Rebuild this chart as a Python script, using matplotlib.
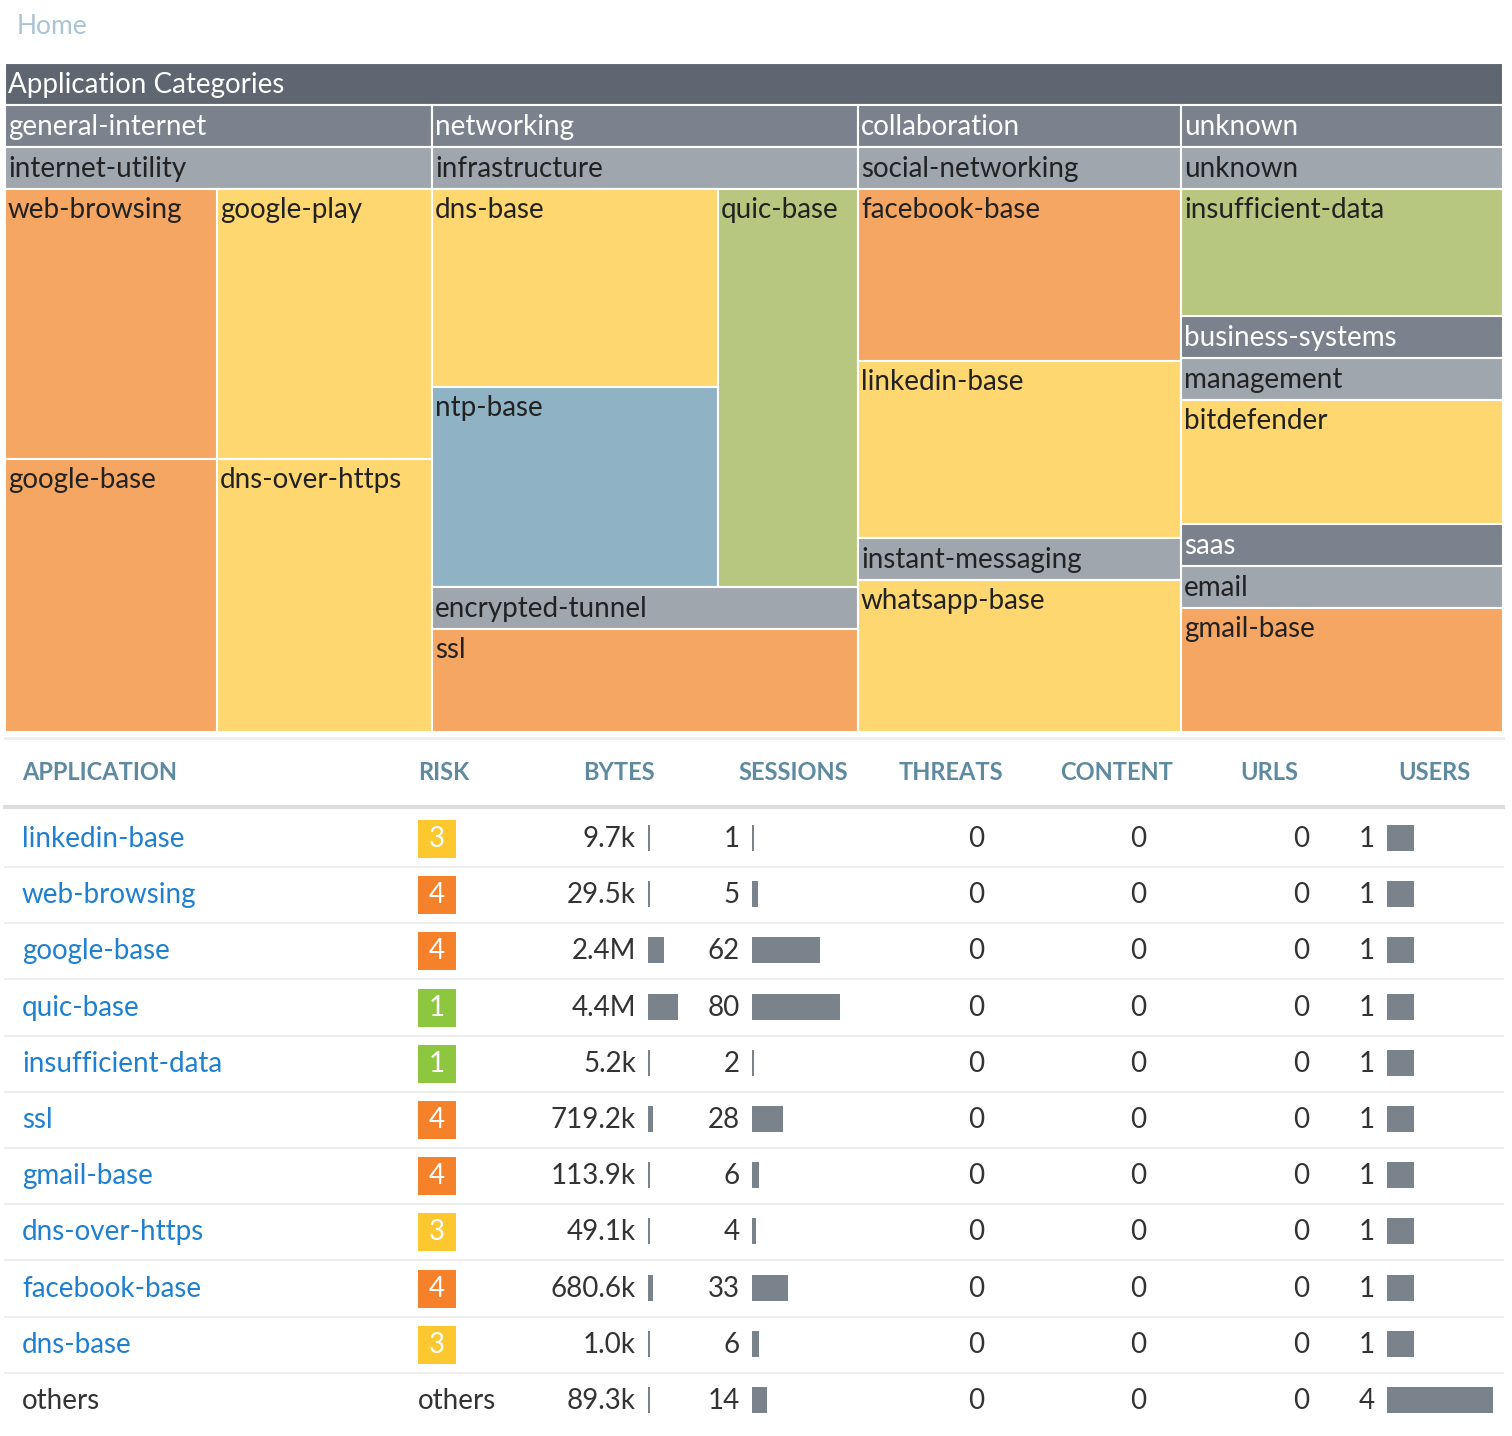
import matplotlib.pyplot as plt
from matplotlib.patches import Rectangle

plt.rcParams['font.family'] = ['Lato', 'DejaVu Sans']

# ---- treemap data: (name, kind, size along parent split, color key, split, children)
ORANGE, YELLOW, GREEN, BLUE = '#f4a662', '#fed770', '#b8c77f', '#8fb3c5'
CAT, SUB, ROOT = '#7b818d', '#a0a6ae', '#5f6671'

tree = ('Application Categories', 'root', 1, None, 'h', [
    ('general-internet', 'cat', 427, None, 'v', [
        ('internet-utility', 'sub', 1, None, 'h', [
            ('', 'group', 212, None, 'v', [
                ('web-browsing', 'app', 270, ORANGE, None, []),
                ('google-base', 'app', 272, ORANGE, None, [])]),
            ('', 'group', 215, None, 'v', [
                ('google-play', 'app', 270, YELLOW, None, []),
                ('dns-over-https', 'app', 272, YELLOW, None, [])])])]),
    ('networking', 'cat', 426, None, 'v', [
        ('infrastructure', 'sub', 439, None, 'h', [
            ('', 'group', 286, None, 'v', [
                ('dns-base', 'app', 198, YELLOW, None, []),
                ('ntp-base', 'app', 199, BLUE, None, [])]),
            ('quic-base', 'app', 140, GREEN, None, [])]),
        ('encrypted-tunnel', 'sub', 145, None, 'v', [
            ('ssl', 'app', 1, ORANGE, None, [])])]),
    ('collaboration', 'cat', 323, None, 'v', [
        ('social-networking', 'sub', 390, None, 'v', [
            ('facebook-base', 'app', 172, ORANGE, None, []),
            ('linkedin-base', 'app', 176, YELLOW, None, [])]),
        ('instant-messaging', 'sub', 194, None, 'v', [
            ('whatsapp-base', 'app', 1, YELLOW, None, [])])]),
    ('', 'group', 322, None, 'v', [
        ('unknown', 'cat', 211, None, 'v', [
            ('unknown', 'sub', 1, None, 'v', [
                ('insufficient-data', 'app', 1, GREEN, None, [])])]),
        ('business-systems', 'cat', 208, None, 'v', [
            ('management', 'sub', 1, None, 'v', [
                ('bitdefender', 'app', 1, YELLOW, None, [])])]),
        ('saas', 'cat', 208, None, 'v', [
            ('email', 'sub', 1, None, 'v', [
                ('gmail-base', 'app', 1, ORANGE, None, [])])])]),
])

# ---- table data
apps = ['linkedin-base', 'web-browsing', 'google-base', 'quic-base', 'insufficient-data',
        'ssl', 'gmail-base', 'dns-over-https', 'facebook-base', 'dns-base', 'others']
risk = [3, 4, 4, 1, 1, 4, 4, 3, 4, 3, None]
bytes_lbl = ['9.7k', '29.5k', '2.4M', '4.4M', '5.2k', '719.2k', '113.9k', '49.1k', '680.6k', '1.0k', '89.3k']
bytes_val = [9.7e3, 29.5e3, 2.4e6, 4.4e6, 5.2e3, 719.2e3, 113.9e3, 49.1e3, 680.6e3, 1.0e3, 89.3e3]
sessions = [1, 5, 62, 80, 2, 28, 6, 4, 33, 6, 14]
threats = [0] * 11
content = [0] * 11
urls = [0] * 11
users = [1, 1, 1, 1, 1, 1, 1, 1, 1, 1, 4]
risk_colors = {1: '#8dc63f', 3: '#fdc82f', 4: '#f5822a'}

W, H = 1512, 1436
fig = plt.figure(figsize=(W / 100, H / 100), dpi=100)
ax = fig.add_axes([0, 0, 1, 1])
ax.set_xlim(0, W)
ax.set_ylim(H, 0)
ax.axis('off')

HDR = 42
FS = 20


def layout(node, x, y, w, h):
    name, kind, _, color, split, children = node
    if kind in ('root', 'cat', 'sub'):
        fc = {'root': ROOT, 'cat': CAT, 'sub': SUB}[kind]
        tc = '#222222' if kind == 'sub' else 'white'
        ax.add_patch(Rectangle((x, y), w, HDR, facecolor=fc, edgecolor='white', lw=1.5))
        ax.text(x + 3, y + HDR / 2 + 1, name, color=tc, fontsize=FS, va='center', ha='left')
        y, h = y + HDR, h - HDR
    if kind == 'app':
        ax.add_patch(Rectangle((x, y), w, h, facecolor=color, edgecolor='white', lw=1.5))
        ax.text(x + 3, y + 21, name, color='#222222', fontsize=FS, va='center', ha='left')
        return
    total = sum(c[2] for c in children)
    pos = 0
    for c in children:
        frac = c[2] / total
        if split == 'h':
            layout(c, x + pos * w, y, frac * w, h)
        else:
            layout(c, x, y + pos * h, w, frac * h)
        pos += frac


ax.text(17, 26, 'Home', color='#a9c4d6', fontsize=19, va='center')
layout(tree, 5, 63, 1498, 669)

# ---- table
HEAD_C = '#5d8aa0'
headers = [('APPLICATION', 22, 'left'), ('RISK', 418, 'left'), ('BYTES', 655, 'right'),
           ('SESSIONS', 848, 'right'), ('THREATS', 1003, 'right'), ('CONTENT', 1173, 'right'),
           ('URLS', 1298, 'right'), ('USERS', 1470, 'right')]
for t, hx, ha in headers:
    ax.text(hx, 773, t, color=HEAD_C, fontsize=17, fontweight='bold', ha=ha, va='center')
ax.plot([5, 1503], [738, 738], color='#eeeeee', lw=2)
ax.plot([5, 1503], [807, 807], color='#dddddd', lw=3)

y0, dy = 839, 56.2
BAR = '#7a838c'
bmax, smax = max(bytes_val), max(sessions)
for i in range(len(apps)):
    y = y0 + i * dy
    if i < len(apps) - 1:
        ax.plot([5, 1503], [y + 28, y + 28], color='#eeeeee', lw=1.5)
    is_other = apps[i] == 'others'
    ax.text(22, y, apps[i], color='#333333' if is_other else '#1f7fd0', fontsize=FS, va='center')
    if risk[i] is None:
        ax.text(418, y, 'others', color='#333333', fontsize=FS, va='center')
    else:
        ax.add_patch(Rectangle((418, y - 19), 38, 38, facecolor=risk_colors[risk[i]], edgecolor='none'))
        ax.text(437, y, str(risk[i]), color='white', fontsize=FS, ha='center', va='center')
    ax.text(636, y, bytes_lbl[i], color='#333333', fontsize=FS, ha='right', va='center')
    ax.add_patch(Rectangle((648, y - 14), max(2, bytes_val[i] / bmax * 30), 26, facecolor=BAR))
    ax.text(740, y, str(sessions[i]), color='#333333', fontsize=FS, ha='right', va='center')
    ax.add_patch(Rectangle((752, y - 14), max(2, sessions[i] / smax * 88), 26, facecolor=BAR))
    ax.text(984, y, str(threats[i]), color='#333333', fontsize=FS, ha='right', va='center')
    ax.text(1146, y, str(content[i]), color='#333333', fontsize=FS, ha='right', va='center')
    ax.text(1309, y, str(urls[i]), color='#333333', fontsize=FS, ha='right', va='center')
    ax.text(1375, y, str(users[i]), color='#333333', fontsize=FS, ha='right', va='center')
    ax.add_patch(Rectangle((1387, y - 14), users[i] * 26.5, 26, facecolor=BAR))

fig.savefig('out.png', dpi=100)
